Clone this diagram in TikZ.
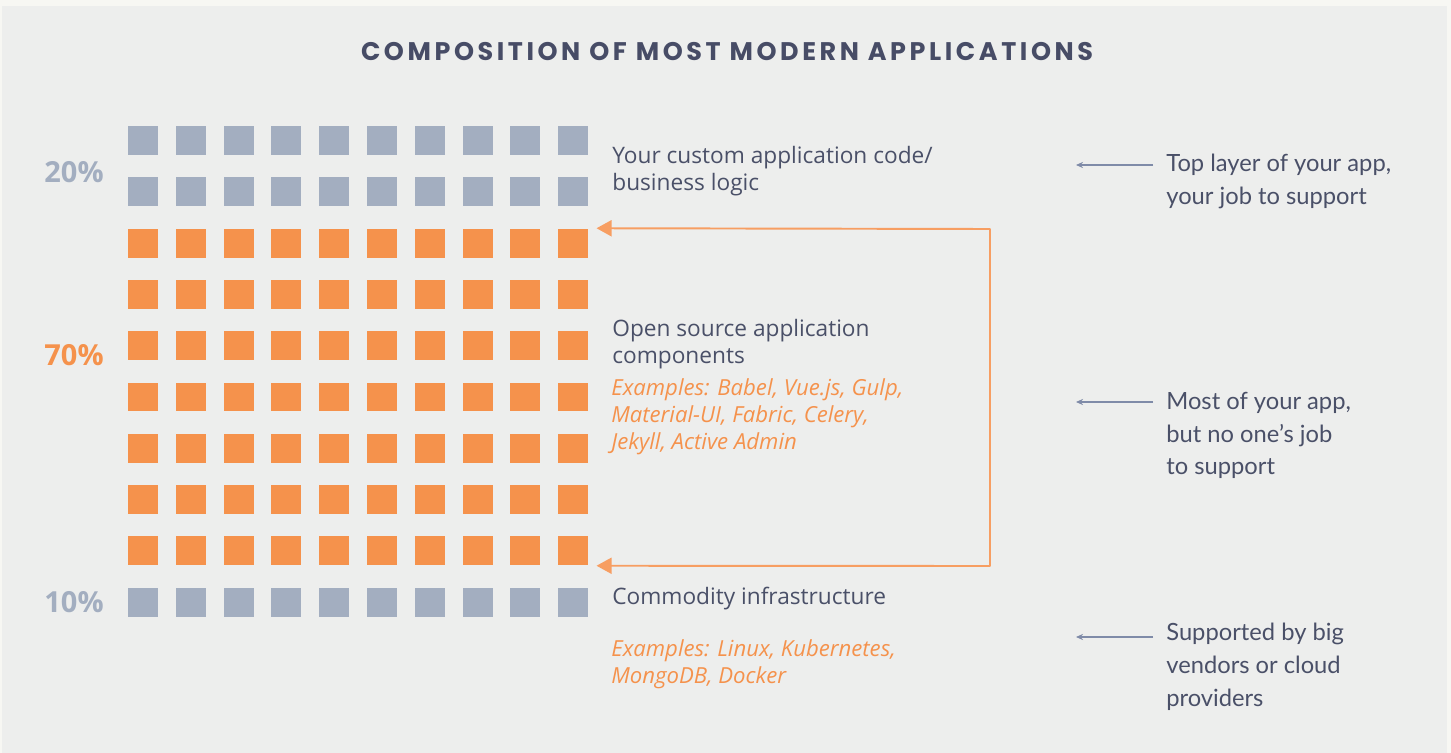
\documentclass[tikz,border=0pt]{standalone}
\usepackage{fontspec}
\setmainfont{Open Sans}
\newfontfamily\TitleFont[LetterSpace = 14]{Poppins}
\newfontfamily\NoteFont{Lato}
\usepackage{xcolor}
\usepackage{tikz}
\usetikzlibrary{calc, positioning, arrows.meta}
\definecolor{PageColour}{HTML}{F7F7F3}
\definecolor{PanelColour}{HTML}{EDEEED}
\definecolor{ForegroundColour}{HTML}{4A5068}
\definecolor{TitleColour}{HTML}{474C66}
\definecolor{BlockGrey}{HTML}{A3AEC0}
\definecolor{BlockOrange}{HTML}{F5924C}
\definecolor{LineOrange}{HTML}{F79E62}
\definecolor{NoteLine}{HTML}{7F8BA8}
\colorlet{PercentGrey}{BlockGrey}

\begin{document}
\begin{tikzpicture}[x = 0.02cm, y = -0.02cm,
    block/.style = {minimum width = 0.6cm, minimum height = 0.58cm, inner sep = 0pt},
    layertext/.style = {anchor = west, align = left, inner sep = 0pt, text = ForegroundColour, font = \fontsize{12.9}{15.3}\selectfont},
    examples/.style = {layertext, text = BlockOrange, font = \fontsize{12.6}{15.3}\selectfont\itshape},
    sidenote/.style = {anchor = west, align = left, inner sep = 0pt, text = ForegroundColour, font = \NoteFont\fontsize{13.5}{18.7}\selectfont},
    percent/.style = {inner sep = 0pt, font = \fontsize{16.5}{18}\selectfont\bfseries},
    notearrow/.style = {draw = NoteLine, line width = 0.7pt, -{Stealth[length = 4pt, width = 3.5pt]}},
    stackarrow/.style = {draw = LineOrange, line width = 1.1pt, line join = round, {Triangle[length = 0.3cm, width = 0.32cm]}-{Triangle[length = 0.3cm, width = 0.32cm]}}
]
    % page and panel
    \path[fill = PageColour] (0, 0) rectangle (1451, 753);
    \path[fill = PanelColour] (2, 6) rectangle (1447, 753);
    \useasboundingbox (0, 0) rectangle (1451, 753);

    \node[text = TitleColour, font = \TitleFont\fontsize{14.5}{16}\selectfont\bfseries] (title) at (727, 52) {COMPOSITION OF MOST MODERN APPLICATIONS};

    % ten rows of ten blocks: 2 grey, 7 orange, 1 grey
    \foreach \row in {1, ..., 10} {
        \ifnum\row<3 \def\blockcolour{BlockGrey}\else
            \ifnum\row=10 \def\blockcolour{BlockGrey}\else \def\blockcolour{BlockOrange}\fi
        \fi
        \foreach \col in {1, ..., 10} {
            \node[block, fill = \blockcolour] (sq-\row-\col) at ({143 + 47.8*(\col - 1)}, {140.5 + 51.3*(\row - 1)}) {};
        }
    }

    \node[percent, text = PercentGrey] (pc-top) at (74, 172) {20\%};
    \node[percent, text = BlockOrange] (pc-mid) at (74, 355) {70\%};
    \node[percent, text = PercentGrey] (pc-bot) at (74, 602) {10\%};

    \node[layertext] (layer-top) at (612, 171.5) {Your custom application code/\\business logic};
    \node[layertext] (layer-mid) at (612, 344) {Open source application\\components};
    \node[examples] (ex-mid) at (611, 417) {Examples: Babel, Vue.js, Gulp,\\Material-UI, Fabric, Celery,\\Jekyll, Active Admin};
    \node[layertext] (layer-bot) at (612, 599) {Commodity infrastructure};
    \node[examples] (ex-bot) at (611, 664.5) {Examples: Linux, Kubernetes,\\MongoDB, Docker};

    % bracket back to the open source rows
    \coordinate (bend-top) at (990, 229);
    \coordinate (bend-bot) at (990, 566);
    \draw[stackarrow] ($(sq-3-10.north east) + (8, 0)$) -- (bend-top) -- (bend-bot) -- ($(sq-9-10.south east) + (8, 0)$);

    \node[sidenote] (note-top) at (1166, 181.5) {Top layer of your app,\\your job to support};
    \node[sidenote] (note-mid) at (1166, 435.5) {Most of your app,\\but no one’s job\\to support};
    \node[sidenote] (note-bot) at (1166, 666.5) {Supported by big\\vendors or cloud\\providers};

    \foreach \name/\ypos in {top/165, mid/402, bot/637} {
        \coordinate (tail-\name) at (1153, \ypos);
        \coordinate (tip-\name) at (1076, \ypos);
        \draw[notearrow] (tail-\name) -- (tip-\name);
    }
\end{tikzpicture}
\end{document}
